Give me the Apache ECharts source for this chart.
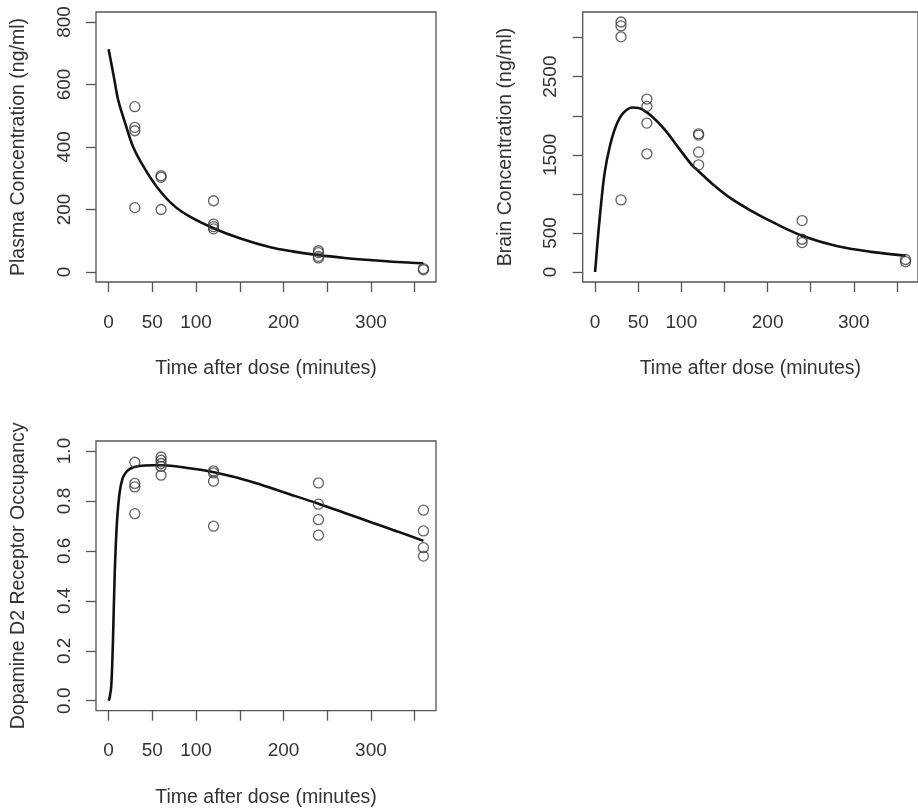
<!DOCTYPE html>
<html>
<head>
<meta charset="utf-8">
<script src="https://cdn.jsdelivr.net/npm/echarts@6/dist/echarts.min.js"></script>
<style>
  html, body { margin: 0; padding: 0; background: #fff; }
  #chart { width: 918px; height: 809px; }
</style>
</head>
<body>
<div id="chart"></div>
<script>
// Sampling times (minutes) and axis ticks
const timeTicks = [0, 50, 100, 150, 200, 250, 300, 350];
const timeLabels = [0, 50, 100, 200, 300];

// Plasma concentration (ng/ml): observations and fitted curve
const plasmaObsTime = [30, 30, 30, 30, 60, 60, 60, 120, 120, 120, 120, 240, 240, 240, 240, 360, 360];
const plasmaObs = [529, 463, 452, 206, 308, 303, 200, 228, 153, 145, 138, 68, 62, 50, 45, 11, 7];
const plasmaFitTime = [0, 6, 11, 19, 28, 40, 55, 74, 93, 120, 150, 185, 210, 240, 270, 300, 330, 360];
const plasmaFit = [713, 625, 550, 476, 401, 337, 273, 214, 177, 140, 108, 79, 66, 54, 45, 38, 32, 28];
const plasmaTicks = [0, 200, 400, 600, 800];

// Brain concentration (ng/ml): observations and fitted curve
const brainObsTime = [30, 30, 30, 30, 60, 60, 60, 60, 120, 120, 120, 120, 240, 240, 240, 360, 360];
const brainObs = [3200, 3150, 3010, 923, 2214, 2120, 1906, 1513, 1769, 1752, 1534, 1372, 658, 419, 376, 160, 132];
const brainFitTime = [0, 3, 7, 11, 17, 24, 32, 43, 50, 55, 66, 81, 97, 112, 120, 135, 157, 180, 210, 240, 280, 320, 360];
const brainFit = [0, 410, 880, 1265, 1606, 1863, 2026, 2105, 2098, 2077, 1991, 1820, 1586, 1372, 1290, 1137, 945, 790, 615, 465, 333, 258, 210];
const brainTicks = [0, 500, 1000, 1500, 2000, 2500, 3000];
const brainLabels = [0, 500, 1500, 2500];

// Dopamine D2 receptor occupancy: observations and fitted curve
const occObsTime = [30, 30, 30, 30, 60, 60, 60, 60, 60, 120, 120, 120, 120, 240, 240, 240, 240, 360, 360, 360, 360];
const occObs = [0.955, 0.870, 0.856, 0.749, 0.976, 0.963, 0.950, 0.938, 0.903, 0.920, 0.912, 0.879, 0.699, 0.872, 0.787, 0.725, 0.663, 0.763, 0.680, 0.613, 0.579];
const occFitTime = [0, 1, 3, 5, 7, 9.5, 12.5, 16, 20, 25, 35, 50, 62, 90, 119, 150, 168, 200, 240, 270, 300, 330, 360];
const occFit = [0, 0.01, 0.056, 0.24, 0.51, 0.71, 0.83, 0.89, 0.915, 0.93, 0.94, 0.943, 0.943, 0.932, 0.916, 0.89, 0.872, 0.835, 0.789, 0.752, 0.715, 0.678, 0.64];
const occTicks = [0, 0.2, 0.4, 0.6, 0.8, 1.0];

const FONT = '"Liberation Sans", Arial, Helvetica, sans-serif';
const TEXT = '#333';
const FRAME = '#555';

const pairs = (xs, ys) => xs.map((x, i) => [x, ys[i]]);

function timeAxis(gridIndex) {
  return {
    gridIndex, type: 'value', min: -14.4, max: 374.4, position: 'bottom',
    name: 'Time after dose (minutes)', nameLocation: 'middle', nameGap: 77,
    nameTextStyle: { fontSize: 19.5, color: TEXT, fontFamily: FONT },
    axisLine: { show: false, onZero: false },
    splitLine: { show: false },
    axisTick: { show: true, inside: false, length: 10, customValues: timeTicks,
                lineStyle: { color: FRAME, width: 1.3 } },
    axisLabel: { show: true, margin: 31, fontSize: 19, color: TEXT, fontFamily: FONT,
                 customValues: timeLabels }
  };
}

function valueAxis(gridIndex, name, min, max, ticks, labels, fmt) {
  return {
    gridIndex, type: 'value', min, max, position: 'left',
    name, nameLocation: 'middle', nameGap: 67, nameRotate: 90,
    nameTextStyle: { fontSize: 19.5, color: TEXT, fontFamily: FONT },
    axisLine: { show: false, onZero: false },
    splitLine: { show: false },
    axisTick: { show: true, inside: false, length: 10, customValues: ticks,
                lineStyle: { color: FRAME, width: 1.3 } },
    axisLabel: { show: true, rotate: 90, margin: 22, fontSize: 19, color: TEXT, fontFamily: FONT,
                 customValues: labels, formatter: fmt }
  };
}

function obsSeries(idx, data) {
  return {
    type: 'scatter', xAxisIndex: idx, yAxisIndex: idx, data,
    symbol: 'circle', symbolSize: 10,
    itemStyle: { color: 'transparent', borderColor: '#3a3a3a', borderWidth: 1.3 },
    emphasis: { disabled: true }, silent: true, z: 3
  };
}

function fitSeries(idx, data) {
  return {
    type: 'line', xAxisIndex: idx, yAxisIndex: idx, data,
    showSymbol: false, smooth: 0.35,
    lineStyle: { color: '#111', width: 2.6 },
    emphasis: { disabled: true }, silent: true, z: 2
  };
}

const gridStyle = { show: true, borderColor: FRAME, borderWidth: 1.3, backgroundColor: 'transparent' };

const option = {
  animation: false,
  backgroundColor: '#fff',
  grid: [
    Object.assign({ left: 96, top: 12, width: 340, height: 270 }, gridStyle),
    Object.assign({ left: 582.7, top: 12, width: 340.9, height: 270 }, gridStyle),
    Object.assign({ left: 96, top: 441, width: 340, height: 269.7 }, gridStyle)
  ],
  xAxis: [timeAxis(0), timeAxis(1), timeAxis(2)],
  yAxis: [
    valueAxis(0, 'Plasma Concentration (ng/ml)', -32, 832, plasmaTicks, plasmaTicks, v => String(v)),
    valueAxis(1, 'Brain Concentration (ng/ml)', -128, 3328, brainTicks, brainLabels, v => String(v)),
    valueAxis(2, 'Dopamine D2 Receptor Occupancy', -0.04, 1.04, occTicks, occTicks, v => v.toFixed(1))
  ],
  series: [
    fitSeries(0, pairs(plasmaFitTime, plasmaFit)),
    obsSeries(0, pairs(plasmaObsTime, plasmaObs)),
    fitSeries(1, pairs(brainFitTime, brainFit)),
    obsSeries(1, pairs(brainObsTime, brainObs)),
    fitSeries(2, pairs(occFitTime, occFit)),
    obsSeries(2, pairs(occObsTime, occObs))
  ]
};

const chart = echarts.init(document.getElementById('chart'), null, { renderer: 'canvas' });
chart.setOption(option);
</script>
</body>
</html>
